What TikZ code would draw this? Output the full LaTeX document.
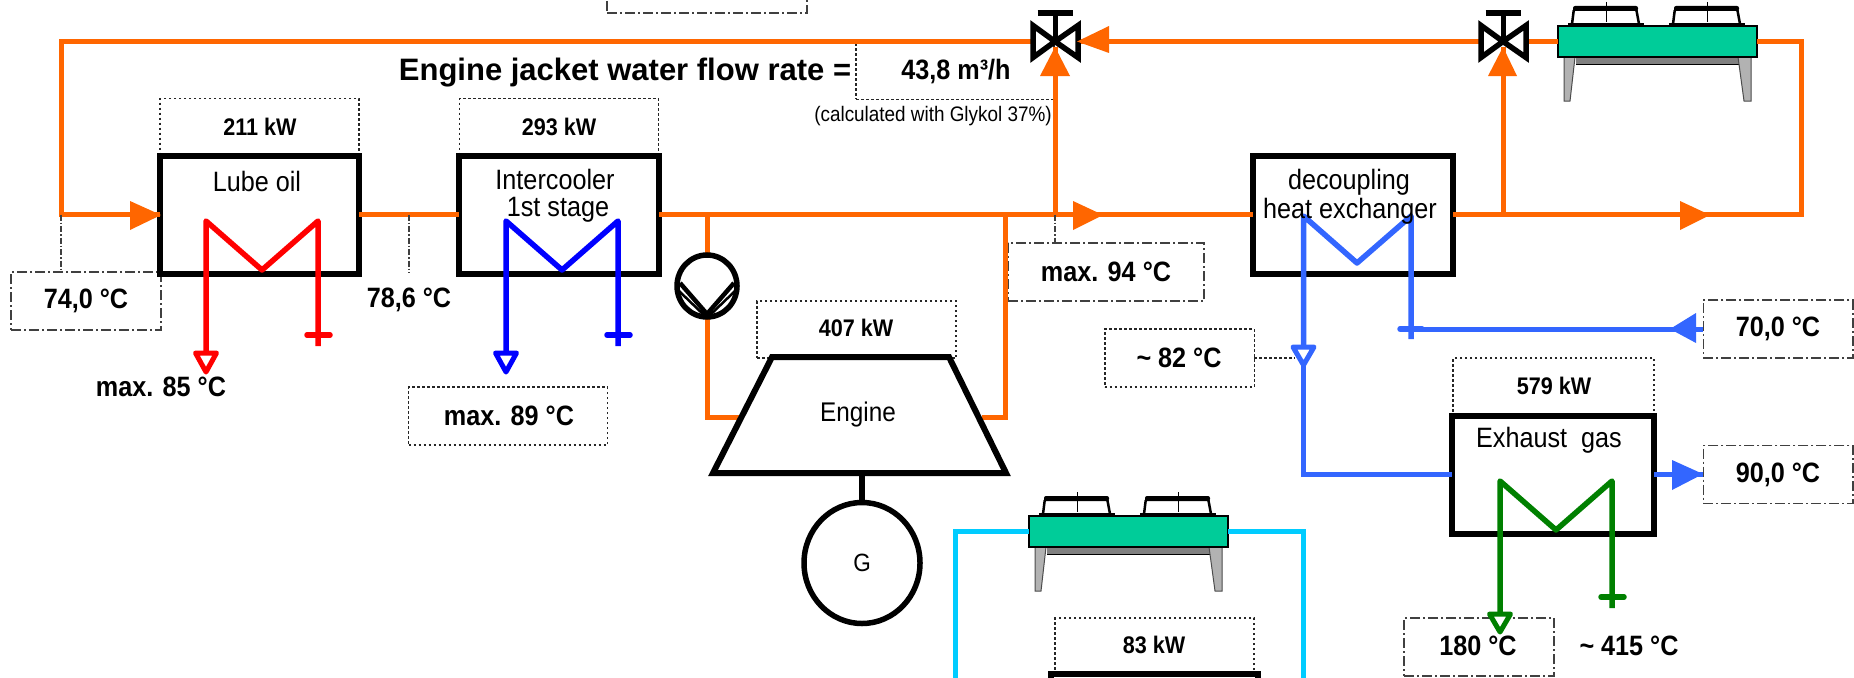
\documentclass[tikz,border=0pt]{standalone}
\usepackage{fontspec}
\usetikzlibrary{shapes.geometric}
\setmainfont{Liberation Sans}
\newfontfamily\nf[FakeStretch=0.9]{Liberation Sans}
\definecolor{corange}{HTML}{FF6600}
\definecolor{clblue}{HTML}{3366FF}
\definecolor{ccyan}{HTML}{00CCFF}
\definecolor{cgreen}{HTML}{008000}
\definecolor{cbody}{HTML}{00CC99}
\definecolor{cdash}{HTML}{404040}
\tikzset{
  oline/.style={draw=corange,line width=5pt},
  bline/.style={draw=clblue,line width=5pt},
  cline/.style={draw=ccyan,line width=5pt},
  coil/.style={line width=5.5pt,line join=round},
  opentri/.style={line width=5pt,line join=round,fill=white},
  hxbox/.style={draw=black,line width=6pt,minimum width=199pt,minimum height=118pt,outer sep=0pt,inner sep=0pt},
  ddbox/.style={draw=cdash,line width=1.5pt,dash pattern=on 10pt off 3pt on 2pt off 3pt,minimum width=150pt,minimum height=58pt,outer sep=0pt,inner sep=0pt,tempfont},
  dotbox/.style={draw=black!85,line width=1.5pt,dash pattern=on 2.5pt off 2.5pt,minimum width=199pt,minimum height=58pt,outer sep=0pt,inner sep=0pt},
  ddline/.style={draw=cdash,line width=1.2pt,dash pattern=on 6pt off 2pt on 1.5pt off 2pt},
  dotline/.style={draw=black!85,line width=1.5pt,dash pattern=on 2.5pt off 2.5pt},
  tempfont/.style={font=\nf\bfseries\fontsize{28}{28}\selectfont},
  kwfont/.style={font=\nf\bfseries\fontsize{24}{24}\selectfont},
  regfont/.style={font=\nf\fontsize{28}{28}\selectfont},
  plain/.style={inner sep=0pt,outer sep=0pt},
  coolerbody/.style={draw=black,line width=1.4pt,fill=cbody,anchor=north west,minimum width=199pt,minimum height=31pt,outer sep=0pt,inner sep=0pt},
  coolerleg/.style={draw=black!70,line width=1pt,fill=black!30},
}
\newcommand\hxcoil[9]{%
  \draw[coil,draw=#7] (#1,#8) -- (#1,#4) -- (#2,#5) -- (#3,#4) -- (#3,#6);
  \draw[coil,draw=#7,line cap=round] (#3-11,#6-11) -- (#3+12,#6-11);
  \draw[opentri,draw=#7] (#1-10.5,#8+2) -- (#1+10.5,#8+2) -- (#1,#9-2) -- cycle;
}
\newcommand\valveat[3]{%
  \coordinate (#1) at (#2,#3);
  \coordinate (#1w) at (#2-24,#3);
  \coordinate (#1e) at (#2+25,#3);
  \coordinate (#1s) at (#2,#3+6);
}
\newcommand\valvedraw[2]{%
  \draw[black,line width=5.5pt,fill=white,line join=miter] (#1,#2) -- (#1-22,#2-16) -- (#1-22,#2+16) -- cycle;
  \draw[black,line width=5.5pt,fill=white,line join=miter] (#1,#2) -- (#1+23,#2-16) -- (#1+23,#2+16) -- cycle;
  \draw[black,line width=5pt] (#1,#2) -- (#1,#2-28);
  \draw[black,line width=6pt] (#1-17.5,#2-28) -- (#1+17.5,#2-28);
}
\newcommand\fanat[1]{%
  \begin{scope}[xshift=#1pt]
    \draw[black,line width=2.5pt,rounded corners=3pt] (14,-2) -- (16,-18) -- (78,-18) -- (81,-2);
    \fill[black,rounded corners=2pt] (15,-20) rectangle (80,-15);
    \fill[black] (10,-3) rectangle (86,0);
    \draw[black,line width=.7pt] (48,-24) -- (48,-4);
  \end{scope}
}
\newcommand\cooler[3]{%
  \begin{scope}[shift={(#2,#3)}]
    \fanat{0}\fanat{101}
    \fill[black!50] (18,31) rectangle (181,38);
    \draw[black,line width=.8pt] (18,38) -- (181,38);
    \draw[coolerleg] (6,31) -- (17,31) -- (12,75) -- (6,75) -- cycle;
    \draw[coolerleg] (180,31) -- (193,31) -- (193,75) -- (186,75) -- cycle;
    \node[coolerbody] (#1) at (0,0) {};
  \end{scope}
}
\begin{document}
\begin{tikzpicture}[x=1pt,y=-1pt]
\clip (0,0) rectangle (1854,677);
\fill[white] (0,0) rectangle (1854,677);

% helper coordinates
\valveat{vA}{1055}{41.5}
\valveat{vB}{1503}{41.5}
\coordinate (jL) at (61,214.5);
\coordinate (jP) at (707,214.5);
\coordinate (jE) at (1005,214.5);
\coordinate (jV) at (1055,214.5);
\coordinate (jW) at (1503,214.5);
\coordinate (jR) at (1801,214.5);
\coordinate (cyanL) at (955.5,700);
\coordinate (cyanR) at (1303,700);
\coordinate (engL) at (740,417);
\coordinate (engR) at (982,417);
\coordinate (engB) at (862,473);
\coordinate (mLube) at (409,214.5);
\coordinate (mLube2) at (409,273);
\coordinate (cIn) at (1411,329);
\coordinate (dec82) at (1295,358);
\coordinate (pumpIn) at (707,256);
\coordinate (pumpOut) at (707,316);

% label boxes
\node[ddbox,minimum width=200pt] (topbox) at (707,-16) {};
\node[dotbox] (kw211) at (259.5,127.5) {};
\node[kwfont,plain] (t211) at (260,127) {211 kW};
\node[dotbox] (kw293) at (559,127.5) {};
\node[kwfont,plain] (t293) at (559,127) {293 kW};
\node[dotbox,minimum height=57pt] (kw407) at (856.5,329.5) {};
\node[kwfont,plain] (t407) at (856,328) {407 kW};
\node[dotbox,minimum width=201pt,minimum height=57pt] (kw579) at (1553.5,386.5) {};
\node[kwfont,plain] (t579) at (1554,386) {579 kW};
\node[dotbox,minimum height=58pt] (kw83) at (1154.5,647) {};
\node[kwfont,plain] (t83) at (1154,645) {83 kW};
\node[dotbox,minimum width=198pt,minimum height=57.5pt] (flow) at (955,70.5) {};
\node[plain,font=\nf\bfseries\fontsize{28}{28}\selectfont] (flowt) at (956,72) {43,8 m³/h};
\node[ddbox] (t74) at (86,301) {74,0 °C};
\node[ddbox,minimum width=196pt] (t94) at (1106,272) {max. 94 °C};
\node[ddbox,minimum width=149.5pt] (t70) at (1778,329) {70,0 °C};
\node[ddbox,minimum width=149.5pt] (t90) at (1778,474.5) {90,0 °C};
\node[dotbox,minimum width=149.5pt] (t82) at (1179.5,358) {};
\node[tempfont,plain] (t82t) at (1179,358) {\textasciitilde{} 82 °C};

% equipment boxes
\node[hxbox] (lube) at (259.5,214.5) {};
\node[hxbox,minimum width=200pt] (ic) at (559,214.5) {};
\node[hxbox,minimum width=200pt] (dhx) at (1353,214.5) {};
\node[hxbox,minimum width=202pt] (exh) at (1553,474.5) {};
\node[hxbox,minimum width=207pt,minimum height=40pt] (hx83) at (1154.5,694) {};
\cooler{coolerA}{1558}{26}
\cooler{coolerB}{1029}{516}

% cooling water: cyan loop
\draw[cline] (cyanL) |- (coolerB.west);
\draw[cline] (coolerB.east) -| (cyanR);

% orange circuit
\draw[oline] (vAw) -| (jL) -- (lube.west);
\draw[oline] (lube.east) -- (ic.west);
\draw[oline] (ic.east) -- (dhx.west);
\draw[oline] (vAe) -- (vBw);
\draw[oline] (vBe) -- (coolerA.west);
\draw[oline] (dhx.east) -- (jR) |- (coolerA.east);
\draw[oline] (jV) -- (vAs);
\draw[oline] (jW) -- (vBs);
\draw[oline] (jP) -- (pumpIn);
\draw[oline] (pumpOut) |- (engL);
\draw[oline] (jE) |- (engR);

% valves
\valvedraw{1055}{41.5}
\valvedraw{1503}{41.5}

% engine and generator
\draw[black,line width=6pt,line join=miter,fill=white] (772,357) -- (949,357) -- (1006,473) -- (713,473) -- cycle;
\node[plain,font=\nf\fontsize{27}{27}\selectfont] (engine) at (858,415) {Engine};
\node[draw=black,line width=5.5pt,ellipse,minimum width=116pt,minimum height=121pt,inner sep=0pt,outer sep=0pt,font=\nf\fontsize{25}{25}\selectfont] (gen) at (862,563) {G};
\draw[black,line width=5.5pt] (engB) -- (gen.north);

% pump
\node[draw=black,line width=5.5pt,ellipse,minimum width=60pt,minimum height=62pt,inner sep=0pt,outer sep=0pt,fill=white] (pump) at (707,286) {};
\draw[black,line width=4.5pt,line join=round] (680,283) -- (707,314) -- (734,283);
\draw[black,line width=2.5pt,line join=round] (679,291) -- (707,318) -- (735,291);

% coils
\hxcoil{206}{262}{318}{221}{270}{346}{red}{351}{374}
\hxcoil{506}{562}{618}{221}{270}{346}{blue}{351}{374}
\node[dotbox] (t89) at (508,416) {};
\node[tempfont,plain] (t89t) at (509,416) {max. 89 °C};
\node[ddbox] (t180) at (1479,647) {};
\node[tempfont,plain] (t180t) at (1478,646) {180 °C};
\hxcoil{1500}{1556}{1612}{481}{530}{608}{cgreen}{612}{634}

% blue circuit
\draw[coil,draw=clblue] (1303.5,345) -- (1303.5,216) -- (1357,263) -- (1411,216) -- (1411,339);
\draw[coil,draw=clblue,line cap=round] (1400,329) -- (1422,329);
\draw[bline] (cIn) -- (t70.west);
\draw[bline] (1303.5,366) |- (exh.west);
\draw[bline] (exh.east) -- (t90.west);
\draw[opentri,draw=clblue] (1293,347) -- (1314,347) -- (1303.5,365) -- cycle;

% arrowheads
\fill[corange] (130,201) -- (161,215) -- (130,230) -- cycle;
\fill[corange] (1073,201) -- (1103,215) -- (1073,230) -- cycle;
\fill[corange] (1680,201) -- (1710,215) -- (1680,230) -- cycle;
\fill[corange] (1109,26) -- (1077,41.5) -- (1109,53) -- cycle;
\fill[corange] (1040,76) -- (1055,47) -- (1070,76) -- cycle;
\fill[corange] (1488,76) -- (1503,47) -- (1517,76) -- cycle;
\fill[clblue] (1696,313) -- (1670,329) -- (1696,343) -- cycle;
\fill[clblue] (1672,460) -- (1703,474) -- (1672,490) -- cycle;

% equipment labels
\node[regfont,plain] (tl) at (257,181) {Lube oil};
\node[regfont,plain] (ti) at (555,179) {Intercooler};
\node[regfont,plain] (ti2) at (558,210) {1st stage};
\node[regfont,plain] (td) at (1349,182) {decoupling};
\node[regfont,plain] (td2) at (1350,211) {heat exchanger};
\node[regfont,plain] (te) at (1549,440) {Exhaust\ \ gas};

% free temperature labels
\node[tempfont,plain] (t786) at (409,300) {78,6 °C};
\node[tempfont,plain] (t85) at (161,387) {max. 85 °C};
\node[tempfont,plain] (t415) at (1629,646) {\textasciitilde{} 415 °C};

% leader lines
\draw[ddline] (jL) -- (t74.north -| jL);
\draw[ddline] (mLube) -- (mLube2);
\draw[ddline] (jV) -- (t94.north -| jV);
\draw[dotline] (t82.east) -- (dec82);

% title
\node[plain,font=\bfseries\fontsize{31}{31}\selectfont] (title) at (625,73) {Engine jacket water flow rate =};
\node[plain,font=\nf\fontsize{21}{21}\selectfont] (sub) at (933,116) {(calculated with Glykol 37\%)};
\end{tikzpicture}
\end{document}
